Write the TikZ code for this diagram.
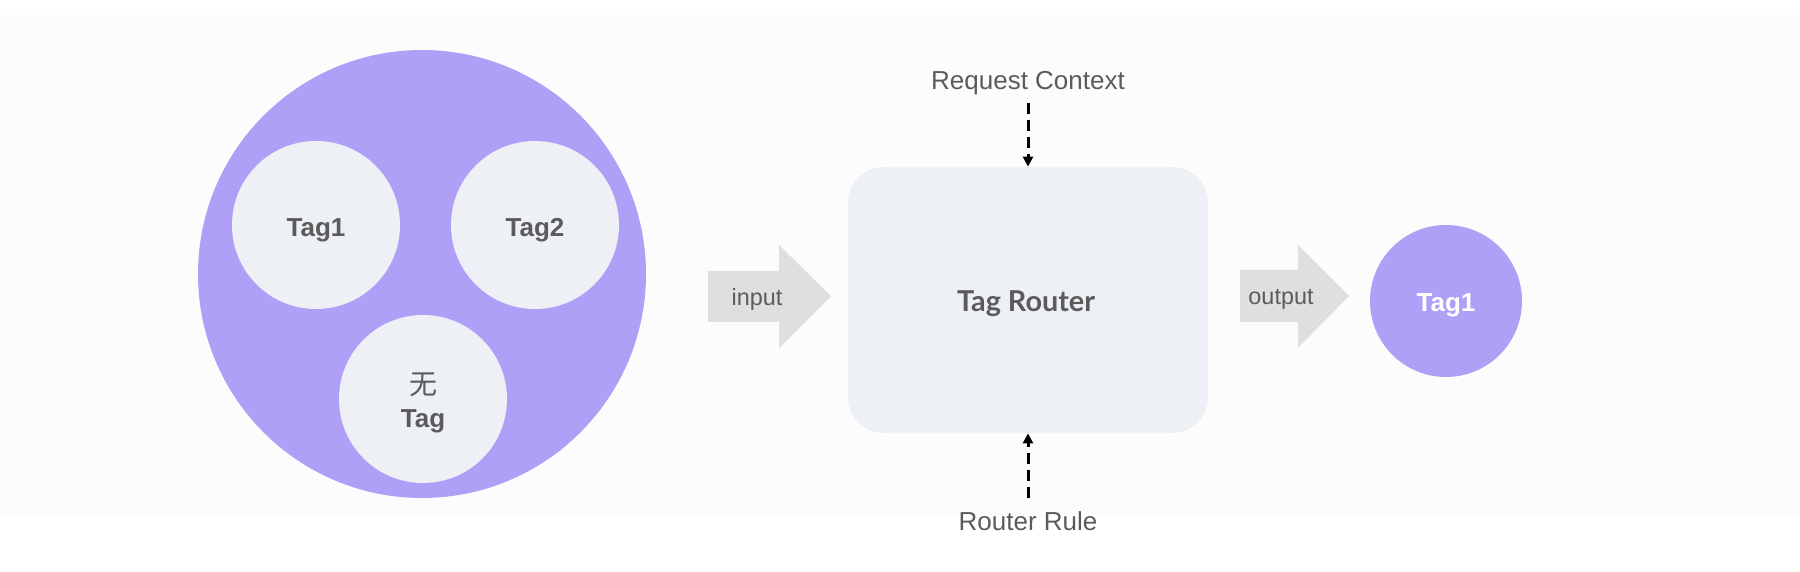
\documentclass[tikz,border=0pt]{standalone}
\usepackage{fontspec}
\setmainfont{Liberation Sans}
\newfontfamily\latofont{Lato}
\newfontfamily\cjk{Noto Sans CJK SC}
\usetikzlibrary{arrows.meta}
\definecolor{bgc}{HTML}{FCFCFC}
\definecolor{purp}{HTML}{B09FF7}
\definecolor{pale}{HTML}{EDF0F5}
\definecolor{arrowgray}{HTML}{DFDFDF}
\definecolor{txt}{HTML}{5B5B5B}
\tikzset{
  bigcirc/.style={circle, fill=purp, inner sep=0pt, minimum size=224pt},
  tagcirc/.style={circle, fill=pale, inner sep=0pt, minimum size=84pt},
  outcirc/.style={circle, fill=purp, inner sep=0pt, minimum size=76pt},
  tagtxt/.style={anchor=base, inner sep=0pt, text=txt, font=\fontsize{13}{16}\selectfont\bfseries},
  outtxt/.style={anchor=base, inner sep=0pt, text=white, font=\fontsize{13}{16}\selectfont\bfseries},
  router/.style={rectangle, rounded corners=18pt, fill=pale, inner sep=0pt, minimum width=180pt, minimum height=133pt},
  lbl/.style={anchor=base, text=txt, font=\fontsize{13}{16}\selectfont, inner sep=0pt},
  arrlbl/.style={anchor=base, text=txt, font=\fontsize{11.7}{14}\selectfont, inner sep=0pt},
  blockarrow/.style={fill=arrowgray},
  dashedarrow/.style={draw=black, line width=1.5pt, dash pattern=on 5.5pt off 3pt, -{Triangle[width=5pt,length=5pt]}}
}
\begin{document}
\begin{tikzpicture}[x=0.5pt, y=-0.5pt]
\useasboundingbox (0,0) rectangle (1800,572);
\fill[white] (0,0) rectangle (1800,572);
\fill[bgc] (0,15) rectangle (1800,518);
% big circle with tags
\node[bigcirc] (big) at (422,274) {};
\node[tagcirc] (tag1) at (316,225) {};
\node[tagcirc] (tag2) at (535,225) {};
\node[tagcirc] (notag) at (423,399) {};
\node[tagtxt] (tag1txt) at (316,237) {Tag1};
\node[tagtxt] (tag2txt) at (535,237) {Tag2};
\node[tagtxt, font=\fontsize{14}{16}\selectfont\cjk] (notagcn) at (423,394) {无};
\node[tagtxt] (notagtxt) at (423,427) {Tag};
% input arrow
\fill[blockarrow] (708,271) -- (779,271) -- (779,245) -- (831,296) -- (779,348) -- (779,322) -- (708,322) -- cycle;
\node[arrlbl] (inlbl) at (757,306) {input};
% router box
\node[router] (box) at (1028,300) {};
\node[anchor=base, inner sep=0pt, text=txt, font=\fontsize{14.4}{18}\selectfont\latofont\bfseries] (boxlbl) at (1026,312) {Tag Router};
\node[lbl] (req) at (1028,90) {Request Context};
\node[lbl] (rule) at (1028,530) {Router Rule};
\coordinate (reqend) at (1028,103);
\coordinate (ruleend) at (1028,498);
\draw[dashedarrow] (reqend) -- (box.north);
\draw[dashedarrow] (ruleend) -- (box.south);
% output arrow
\fill[blockarrow] (1240,270) -- (1298,270) -- (1298,245) -- (1349,296) -- (1298,348) -- (1298,322) -- (1240,322) -- cycle;
\node[arrlbl] (outlbl) at (1281,305) {output};
\node[outcirc] (out) at (1446,301) {};
\node[outtxt] (outtxt) at (1446,312) {Tag1};
\end{tikzpicture}
\end{document}
